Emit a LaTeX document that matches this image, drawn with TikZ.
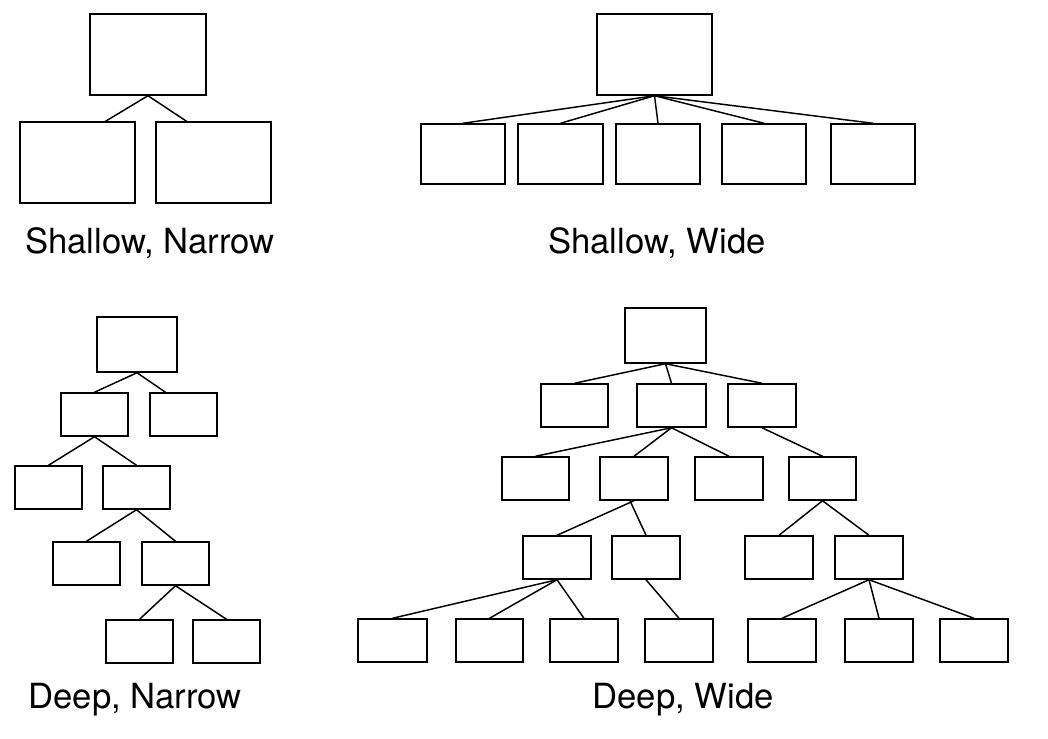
\documentclass[tikz,border=0pt]{standalone}
\usepackage{fontspec}
\setmainfont{TeX Gyre Heros}
\usetikzlibrary{calc}
\newcommand{\bx}[5]{\node[treebox, minimum width={(#4-#2)*0.75pt}, minimum height={(#5-#3)*0.75pt}]
  (#1) at ({(#2+#4)/2},{(#3+#5)/2}) {};}
\begin{document}
\begin{tikzpicture}[x=0.75pt, y=-0.75pt,
  treebox/.style={draw, line width=1.1pt, inner sep=0pt, fill=white},
  link/.style={line width=1.1pt},
  caption/.style={font=\fontsize{26}{30}\selectfont, inner sep=0pt}
]
\useasboundingbox (0,0) rectangle (1048,738);

% Shallow, Narrow
\bx{sn}{90}{14}{206}{95}
\bx{sna}{20}{122}{135}{203}
\bx{snb}{156}{122}{271}{203}
\draw[link] (sn.south) -- ($(sna.north)+(28,0)$);
\draw[link] (sn.south) -- ($(snb.north)+(-27,0)$);
\node[caption] (snlab) at (150,243) {Shallow, Narrow};

% Shallow, Wide
\bx{sw}{597}{14}{712}{95}
\bx{swa}{421}{124}{505}{184}
\bx{swb}{518}{124}{603}{184}
\bx{swc}{616}{124}{700}{184}
\bx{swd}{722}{124}{806}{184}
\bx{swe}{831}{124}{915}{184}
\foreach \c in {swa,swb,swc,swd,swe}
  \draw[link] (sw.south) -- (\c.north);
\node[caption] (swlab) at (657,243) {Shallow, Wide};

% Deep, Narrow
\bx{dn}{97}{317}{177}{372}
\bx{dna}{61}{393}{128}{436}
\bx{dnb}{150}{393}{217}{436}
\bx{dnc}{15}{466}{82}{509}
\bx{dnd}{103}{466}{170}{509}
\bx{dne}{53}{542}{120}{585}
\bx{dnf}{142}{542}{209}{585}
\bx{dng}{106}{620}{173}{663}
\bx{dnh}{193}{620}{260}{663}
\draw[link] (dn.south) -- (dna.north);
\draw[link] (dn.south) -- ($(dnb.north)+(-18,0)$);
\draw[link] (dna.south) -- (dnc.north);
\draw[link] (dna.south) -- (dnd.north);
\draw[link] (dnd.south) -- (dne.north);
\draw[link] (dnd.south) -- (dnf.north);
\draw[link] (dnf.south) -- (dng.north);
\draw[link] (dnf.south) -- (dnh.north);
\node[caption] (dnlab) at (135,700) {Deep, Narrow};

% Deep, Wide
\bx{dw}{625}{308}{706}{363}
\bx{dwa}{541}{384}{608}{427}
\bx{dwb}{637}{384}{706}{427}
\bx{dwc}{728}{384}{796}{427}
\bx{dwd}{502}{457}{569}{500}
\bx{dwe}{600}{457}{668}{500}
\bx{dwf}{695}{457}{763}{500}
\bx{dwg}{789}{457}{856}{500}
\bx{dwh}{523}{536}{591}{579}
\bx{dwi}{612}{536}{680}{579}
\bx{dwj}{745}{536}{813}{579}
\bx{dwk}{835}{536}{903}{579}
\bx{dwl}{358}{619}{427}{662}
\bx{dwm}{456}{619}{523}{662}
\bx{dwn}{550}{619}{618}{662}
\bx{dwo}{645}{619}{713}{662}
\bx{dwp}{748}{619}{816}{662}
\bx{dwq}{845}{619}{913}{662}
\bx{dwr}{940}{619}{1008}{662}
\foreach \c in {dwa,dwb,dwc} \draw[link] (dw.south) -- (\c.north);
\foreach \c in {dwd,dwe,dwf} \draw[link] (dwb.south) -- (\c.north);
\draw[link] (dwc.south) -- (dwg.north);
\draw[link] (dwe.south) -- (dwh.north);
\draw[link] ($(dwe.south)+(-4,0)$) -- (dwi.north);
\draw[link] (dwg.south) -- (dwj.north);
\draw[link] (dwg.south) -- (dwk.north);
\foreach \c in {dwl,dwm,dwn} \draw[link] (dwh.south) -- (\c.north);
\draw[link] (dwi.south) -- (dwo.north);
\foreach \c in {dwp,dwq,dwr} \draw[link] (dwk.south) -- (\c.north);
\node[caption] (dwlab) at (683,700) {Deep, Wide};
\end{tikzpicture}
\end{document}
